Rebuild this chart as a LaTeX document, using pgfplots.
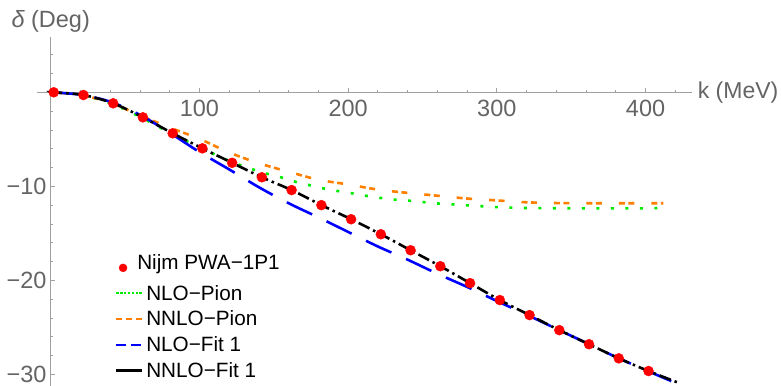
\documentclass[border=0pt]{standalone}
\usepackage{pgfplots}
\pgfplotsset{compat=1.18}
\usepackage{fontspec}
\setmainfont{Liberation Sans}
\definecolor{axgray}{RGB}{160,160,160}
\definecolor{lblgray}{RGB}{100,100,100}
\definecolor{mgreen}{RGB}{0,235,0}
\definecolor{morange}{RGB}{255,128,0}
\definecolor{mblue}{RGB}{0,0,255}
\definecolor{mred}{RGB}{255,0,0}
\begin{document}
\begin{tikzpicture}
\begin{axis}[
  x=1.487pt, y=9.4pt,
  xmin=-9.3, xmax=431, ymin=-31.6, ymax=5.85,
  axis lines=middle,
  axis line style={-, draw=axgray, line width=1pt},
  clip=false,
  xtick={100,200,300,400}, xticklabels={100,200,300,400},
  minor xtick={20,40,60,80,120,140,160,180,220,240,260,280,320,340,360,380,420},
  ytick={-30,-20,-10}, yticklabels={−30,−20,−10},
  minor ytick={-28,-26,-24,-22,-18,-16,-14,-12,-8,-6,-4,-2,2,4},
  tick align=inside,
  major tick length=4pt, minor tick length=2.2pt,
  tick style={draw=axgray, line width=0.8pt},
  xticklabel style={anchor=north, inner sep=0pt, yshift=-8pt, text=lblgray, font=\fontsize{23.5}{23.5}\selectfont},
  yticklabel style={anchor=east, inner sep=0pt, xshift=-4pt, text=lblgray, font=\fontsize{23.5}{23.5}\selectfont},
  legend style={draw=none, fill=none, at={(axis cs:41,-16.9)}, anchor=north west,
    font=\fontsize{20.7}{24}\selectfont, row sep=7.8pt, column sep=2pt,
    nodes={inner sep=1pt, text height=15pt, text depth=1pt}},
  legend cell align=left,
]
\addplot[only marks, mark=*, mark size=5pt, color=mred,
  legend image code/.code={\path[draw=none,fill=none] (0pt,0pt) -- (26pt,0pt); \fill[mred] (7pt,-3pt) circle (4pt);}]
  coordinates {
  (2,0) (22,-0.29) (42,-1.17) (62,-2.66) (82,-4.36) (102,-5.96) (122,-7.5)
  (142,-9.04) (162,-10.4) (182,-12.0) (202,-13.5) (222,-15.1) (242,-16.8)
  (262,-18.5) (282,-20.3) (302,-22.1) (322,-23.7) (342,-25.3) (362,-26.8)
  (382,-28.3) (402,-29.65)};
\addlegendentry[text depth=6pt]{\hspace*{-9pt}Nijm PWA−1P1}
\addplot[smooth, mgreen, line width=2.6pt, dash pattern=on 3pt off 11.5pt,
  legend image code/.code={\draw[mgreen, dash pattern=on 2.6pt off 1.3pt, line width=2.4pt] (0pt,0pt) -- (26pt,0pt);}]
  coordinates {
  (0,0) (20,-0.28) (40,-1.15) (60,-2.6) (80,-4.3) (100,-5.85) (120,-7.3)
  (134,-8.1) (144,-8.6) (154,-9.0) (163,-9.45) (172,-9.8) (181,-10.15)
  (191,-10.45) (201,-10.7) (210,-10.95) (220,-11.2) (230,-11.4) (239,-11.5)
  (249,-11.65) (258,-11.8) (268,-11.9) (278,-12.0) (288,-12.1) (297,-12.2)
  (307,-12.25) (317,-12.3) (340,-12.33) (370,-12.35) (395,-12.35) (414,-12.3)};
\addlegendentry{NLO−Pion}
\addplot[smooth, morange, line width=2.6pt, dash pattern=on 6pt off 3.5pt on 6pt off 17pt,
  legend image code/.code={\draw[morange, dash pattern=on 6pt off 4pt, line width=2.4pt] (0pt,0pt) -- (26pt,0pt);}]
  coordinates {
  (0,0) (20,-0.28) (40,-1.1) (60,-2.45) (80,-3.75) (100,-4.95) (120,-6.4)
  (140,-7.55) (160,-8.45) (180,-9.3) (200,-9.8) (220,-10.35) (240,-10.7)
  (260,-11.0) (280,-11.3) (300,-11.5) (320,-11.7) (340,-11.78) (360,-11.8)
  (380,-11.8) (412,-11.8)};
\addlegendentry{NNLO−Pion}
\addplot[smooth, mblue, line width=2.6pt, dash pattern=on 28pt off 16pt,
  legend image code/.code={\draw[mblue, dash pattern=on 10pt off 5pt, line width=2.4pt] (0pt,0pt) -- (26pt,0pt);}]
  coordinates {
  (0,0) (20,-0.25) (40,-1.0) (60,-2.4) (80,-4.3) (100,-6.35) (120,-8.2)
  (140,-10.1) (160,-11.8) (180,-13.3) (200,-14.85) (220,-16.4) (240,-17.8)
  (260,-19.3) (280,-20.7) (300,-22.2) (320,-23.65) (340,-25.15) (360,-26.65)
  (380,-28.15) (400,-29.55) (423,-31.1)};
\addlegendentry{NLO−Fit 1}
\addplot[smooth, black, line width=2.6pt, dash pattern=on 12pt off 4pt on 2.5pt off 4pt,
  legend image code/.code={\draw[black, solid, line width=2.4pt] (0pt,0pt) -- (26pt,0pt);}]
  coordinates {
  (0,0) (2,0) (22,-0.29) (42,-1.17) (62,-2.66) (82,-4.36) (102,-5.96) (122,-7.5)
  (142,-9.04) (162,-10.4) (182,-12.0) (202,-13.5) (222,-15.1) (242,-16.8)
  (262,-18.5) (282,-20.3) (302,-22.1) (322,-23.7) (342,-25.3) (362,-26.8)
  (382,-28.3) (402,-29.65) (423,-30.95)};
\addlegendentry{NNLO−Fit 1}
\node[anchor=south, inner sep=0pt, yshift=5pt, text=lblgray, font=\fontsize{23.5}{23.5}\selectfont]
  at (axis cs:0,5.85) {{\itshape δ} (Deg)};
\node[anchor=west, inner sep=0pt, xshift=6pt, text=lblgray, font=\fontsize{23}{23}\selectfont]
  at (axis cs:431,0) {k (MeV)};
\coordinate (TL) at (axis cs:-34.1,9.82);
\coordinate (BR) at (axis cs:491.1,-31.14);
\end{axis}
\pgfresetboundingbox
\path[use as bounding box] (TL) rectangle (BR);
\end{tikzpicture}
\end{document}
